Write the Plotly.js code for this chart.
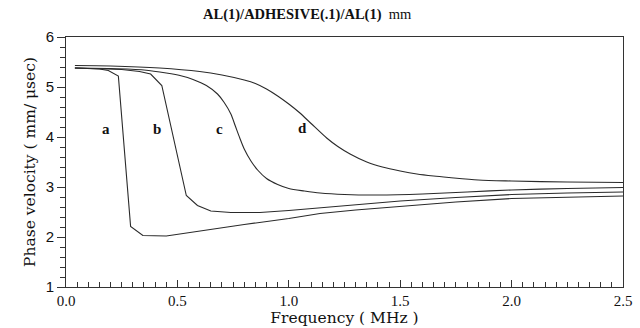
<!DOCTYPE html>
<html>
<head>
<meta charset="utf-8">
<script src="https://cdn.plot.ly/plotly-3.0.1.min.js"></script>
<style>html,body{margin:0;padding:0;background:#fff;}#chart{width:640px;height:328px;}</style>
</head>
<body>
<div id="chart"></div>
<script>
// Frequency (MHz) and phase velocity (mm/usec) for curves a-d
var freqA = [0.04,0.10,0.15,0.19,0.235,0.29,0.345,0.45,0.6,0.8,1.0,1.14,1.3,1.5,1.75,2.0,2.25,2.5];
var velA  = [5.38,5.375,5.36,5.33,5.22,2.21,2.03,2.02,2.12,2.25,2.37,2.47,2.54,2.61,2.70,2.77,2.80,2.82];

var freqB = [0.04,0.15,0.25,0.33,0.38,0.43,0.54,0.59,0.65,0.74,0.87,1.0,1.14,1.3,1.5,1.75,2.0,2.25,2.5];
var velB  = [5.38,5.37,5.35,5.31,5.26,5.03,2.83,2.63,2.52,2.49,2.49,2.53,2.58,2.65,2.72,2.79,2.85,2.88,2.90];

var freqC = [0.04,0.2,0.35,0.45,0.52,0.57,0.63,0.68,0.71,0.74,0.76,0.78,0.80,0.83,0.86,0.9,0.95,1.0,1.07,1.14,1.25,1.4,1.6,1.8,2.0,2.25,2.5];
var velC  = [5.38,5.37,5.34,5.28,5.22,5.15,5.03,4.86,4.69,4.46,4.22,3.98,3.76,3.52,3.34,3.17,3.05,2.97,2.92,2.88,2.85,2.84,2.86,2.90,2.94,2.97,2.99];

var freqD = [0.04,0.2,0.42,0.6,0.7,0.8,0.85,0.9,0.95,1.0,1.05,1.1,1.17,1.22,1.275,1.35,1.42,1.5,1.575,1.65,1.72,1.85,2.0,2.25,2.5];
var velD  = [5.43,5.42,5.38,5.31,5.24,5.14,5.07,4.96,4.82,4.66,4.48,4.27,3.98,3.81,3.66,3.50,3.40,3.32,3.26,3.22,3.19,3.14,3.12,3.10,3.09];

var curveLabels = ["a","b","c","d"];
var labelFreq = [0.18,0.41,0.69,1.06];
var labelVel  = [4.17,4.17,4.17,4.18];

var xTickVals = [0,0.5,1.0,1.5,2.0,2.5];
var xTickText = ["0.0","0.5","1.0","1.5","2.0","2.5"];

var straight = {color:'#2a2a2a', width:1.1, shape:'linear'};
var smooth = {color:'#2a2a2a', width:1.1, shape:'spline', smoothing:0.8};
var traces = [
  {x:freqA, y:velA, mode:'lines', line:straight, hoverinfo:'skip'},
  {x:freqB, y:velB, mode:'lines', line:straight, hoverinfo:'skip'},
  {x:freqC, y:velC, mode:'lines', line:smooth, hoverinfo:'skip'},
  {x:freqD, y:velD, mode:'lines', line:smooth, hoverinfo:'skip'}
];

var annotations = curveLabels.map(function(t,i){
  return {x:labelFreq[i], y:labelVel[i], xref:'x', yref:'y', text:'<b>'+t+'</b>', showarrow:false,
          font:{family:'Liberation Serif', size:15, color:'#111'}};
});

var layout = {
  width:640, height:328,
  margin:{l:66, r:17, t:37, b:41},
  paper_bgcolor:'#fff', plot_bgcolor:'#fff',
  showlegend:false,
  title:{text:'<b>AL(1)/ADHESIVE(.1)/AL(1)</b>  mm', x:0.48, xref:'container', xanchor:'center',
         y:0.957, yref:'container', yanchor:'middle',
         font:{family:'Liberation Serif', size:14.5, color:'#111'}},
  xaxis:{range:[0,2.5], tickvals:xTickVals, ticktext:xTickText,
         ticks:'inside', ticklen:7, tickcolor:'#333', tickwidth:1,
         minor:{dtick:0.05, ticks:'inside', ticklen:5, tickcolor:'#333'},
         showline:true, linecolor:'#333', linewidth:1, mirror:true,
         showgrid:false, zeroline:false,
         tickfont:{family:'Liberation Serif', size:15, color:'#111'},
         title:{text:'Frequency ( MHz )', standoff:2,
                font:{family:'DejaVu Serif', size:15.5, color:'#111'}}},
  yaxis:{range:[1,6], dtick:1, tick0:1,
         ticks:'outside', ticklen:8, tickcolor:'#333', tickwidth:1,
         minor:{dtick:0.2, ticks:'outside', ticklen:5, tickcolor:'#333'},
         showline:true, linecolor:'#333', linewidth:1, mirror:true,
         showgrid:false, zeroline:false,
         tickfont:{family:'Liberation Sans', size:15, color:'#111'},
         title:{text:'Phase velocity ( mm/ μsec)', standoff:6,
                font:{family:'DejaVu Serif', size:15.5, color:'#111'}}},
  annotations:annotations
};

Plotly.newPlot('chart', traces, layout, {displayModeBar:false, staticPlot:true});
</script>
</body>
</html>
